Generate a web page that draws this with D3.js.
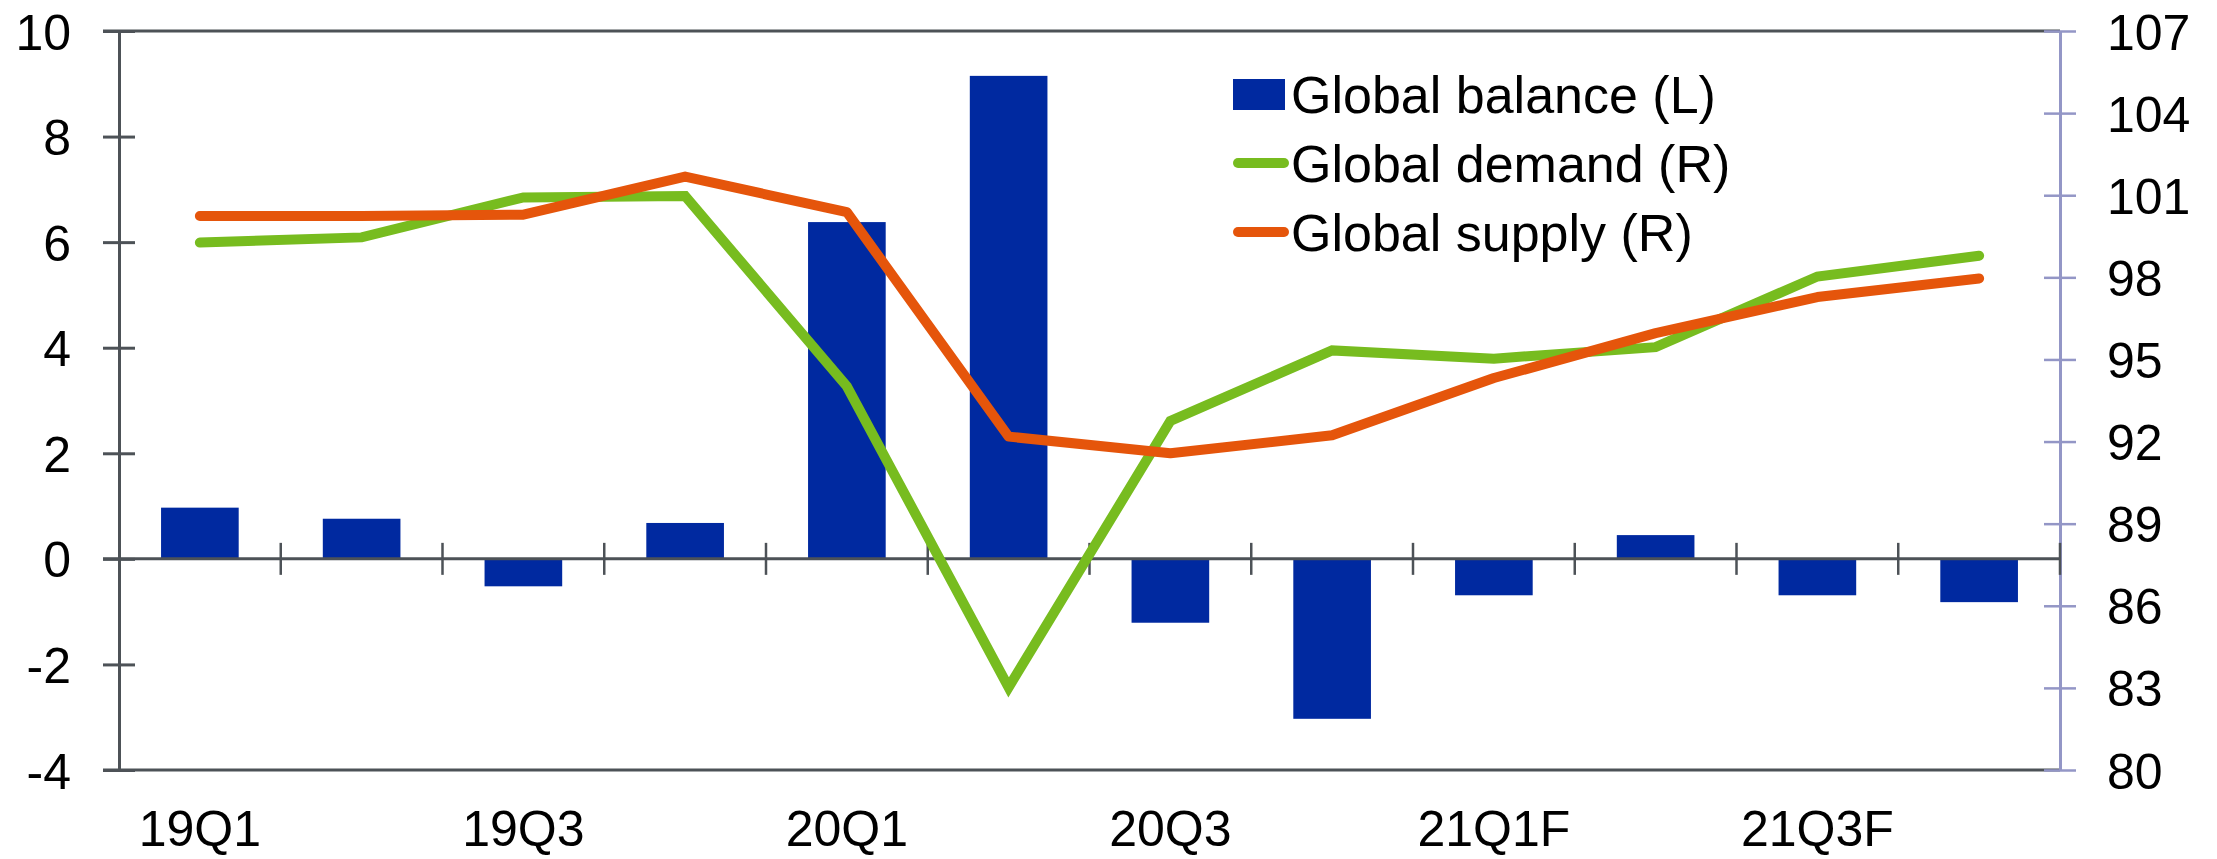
<!DOCTYPE html>
<html>
<head>
<meta charset="utf-8">
<script src="https://cdn.jsdelivr.net/npm/d3@7"></script>
<style>
  html, body { margin: 0; padding: 0; background: #fff; }
  svg { display: block; font-family: "Liberation Sans", Arial, sans-serif; }
</style>
</head>
<body>
<svg id="chart" width="2217" height="859"></svg>
<script>
const categories = ["19Q1","19Q2","19Q3","19Q4","20Q1","20Q2","20Q3","20Q4","21Q1F","21Q2F","21Q3F","21Q4F"];
const xLabels = ["19Q1","","19Q3","","20Q1","","20Q3","","21Q1F","","21Q3F",""];
const balance = [0.97, 0.76, -0.52, 0.68, 6.38, 9.15, -1.21, -3.03, -0.69, 0.45, -0.69, -0.82];
const demand = [99.27, 99.46, 100.92, 100.97, 94.02, 83.02, 92.75, 95.33, 95.03, 95.45, 98.03, 98.79];
const supply = [100.24, 100.24, 100.29, 101.68, 100.38, 92.18, 91.57, 92.23, 94.32, 95.96, 97.28, 97.96];
const leftTicks = [-4, -2, 0, 2, 4, 6, 8, 10];
const rightTicks = [80, 83, 86, 89, 92, 95, 98, 101, 104, 107];
const legendItems = [
  {label: "Global balance (L)", type: "bar", color: "#0029a0"},
  {label: "Global demand (R)", type: "line", color: "#77bc1f"},
  {label: "Global supply (R)", type: "line", color: "#e5550b"}
];

const svg = d3.select("#chart");
const L = 119, R = 2060, T = 31, B = 770;
const axisColor = "#4d5257";
const rightAxisColor = "#9396c6";
const tickFont = "50px";
const fmt = d => String(d);

const x = d3.scaleBand().domain(categories).range([L, R]).padding(0);
const xBar = d3.scaleBand().domain(categories).range([L, R]).paddingInner(0.52).paddingOuter(0.26);
const yL = d3.scaleLinear().domain([-4, 10]).range([B, T]);
const yR = d3.scaleLinear().domain([80, 107]).range([B, T]);

// top & bottom frame lines
svg.append("line").attr("x1", 103).attr("x2", R).attr("y1", T).attr("y2", T)
  .attr("stroke", axisColor).attr("stroke-width", 3);
svg.append("line").attr("x1", 103).attr("x2", R).attr("y1", B).attr("y2", B)
  .attr("stroke", axisColor).attr("stroke-width", 3);

// bars
svg.append("g").selectAll("rect").data(categories).join("rect")
  .attr("x", d => xBar(d))
  .attr("width", xBar.bandwidth())
  .attr("y", (d, i) => Math.min(yL(balance[i]), yL(0)))
  .attr("height", (d, i) => Math.abs(yL(balance[i]) - yL(0)))
  .attr("fill", "#0029a0");

// left axis
const leftAxis = d3.axisLeft(yL).tickValues(leftTicks).tickSize(0).tickFormat(fmt);
const gL = svg.append("g").attr("transform", `translate(${L},0)`).call(leftAxis);
gL.attr("font-family", null).attr("font-size", null);
gL.select(".domain").attr("stroke", axisColor).attr("stroke-width", 3);
gL.selectAll(".tick line").remove();
gL.selectAll(".tick").append("line").attr("x1", -16).attr("x2", 16)
  .attr("stroke", axisColor).attr("stroke-width", 3);
gL.selectAll(".tick text").attr("x", -48).attr("dy", "0.36em").attr("fill", "#000")
  .style("font-size", tickFont);

// right axis
const rightAxis = d3.axisRight(yR).tickValues(rightTicks).tickSize(0).tickFormat(fmt);
const gR = svg.append("g").attr("transform", `translate(${R},0)`).call(rightAxis);
gR.attr("font-family", null).attr("font-size", null);
gR.select(".domain").attr("stroke", rightAxisColor).attr("stroke-width", 3);
gR.selectAll(".tick line").remove();
gR.selectAll(".tick").append("line").attr("x1", -16).attr("x2", 16)
  .attr("stroke", rightAxisColor).attr("stroke-width", 2.5);
gR.selectAll(".tick text").attr("x", 47).attr("dy", "0.36em").attr("fill", "#000")
  .attr("text-anchor", "start")
  .style("font-size", tickFont);

// zero category axis
const y0 = yL(0);
svg.append("line").attr("x1", 103).attr("x2", R).attr("y1", y0).attr("y2", y0)
  .attr("stroke", axisColor).attr("stroke-width", 3);
const boundaries = categories.slice(1).map(c => x(c)).concat([x(categories[categories.length - 1]) + x.bandwidth()]);
svg.append("g").selectAll("line").data(boundaries).join("line")
  .attr("x1", d => d).attr("x2", d => d).attr("y1", y0 - 16).attr("y2", y0 + 16)
  .attr("stroke", axisColor).attr("stroke-width", 2.5);

// x labels at bottom
svg.append("g").selectAll("text").data(categories).join("text")
  .attr("x", d => x(d) + x.bandwidth() / 2)
  .attr("y", 846)
  .attr("text-anchor", "middle")
  .style("font-size", tickFont)
  .attr("fill", "#000")
  .text((d, i) => xLabels[i]);

// lines
const line = d3.line()
  .x((d, i) => x(categories[i]) + x.bandwidth() / 2)
  .y(d => yR(d));
svg.append("path").datum(demand).attr("d", line)
  .attr("fill", "none").attr("stroke", "#77bc1f").attr("stroke-width", 10)
  .attr("stroke-linecap", "round").attr("stroke-linejoin", "miter");
svg.append("path").datum(supply).attr("d", line)
  .attr("fill", "none").attr("stroke", "#e5550b").attr("stroke-width", 10)
  .attr("stroke-linecap", "round").attr("stroke-linejoin", "round");

// legend
const lg = svg.append("g").attr("transform", "translate(1233,94)");
const rows = lg.selectAll("g").data(legendItems).join("g")
  .attr("transform", (d, i) => `translate(0,${i * 69})`);
rows.filter(d => d.type === "bar").append("rect")
  .attr("x", 0).attr("y", -15).attr("width", 52).attr("height", 31).attr("fill", d => d.color);
rows.filter(d => d.type === "line").append("line")
  .attr("x1", 5).attr("x2", 51).attr("y1", 0).attr("y2", 0)
  .attr("stroke", d => d.color).attr("stroke-width", 10).attr("stroke-linecap", "round");
rows.append("text").attr("x", 58).attr("y", 0).attr("dy", "0.36em")
  .style("font-size", "52px").attr("fill", "#000").text(d => d.label);
</script>
</body>
</html>
